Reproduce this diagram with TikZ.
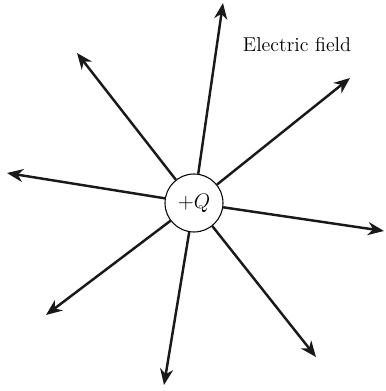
\documentclass[tikz,border=0pt]{standalone}
\usepackage{tikz}
\usetikzlibrary{positioning}
\usetikzlibrary{arrows.meta}
\tikzstyle{charge} = [circle, minimum size=1.16cm, inner sep=0pt, draw=black, line width=0.6pt, fill=white]
\tikzstyle{fieldline} = [line width=1.4pt, draw=black!90, -{Stealth[length=3.2mm, width=2.6mm, inset=1mm]}]

\begin{document}
\begin{tikzpicture}
\useasboundingbox (0,0) rectangle (7.7,7.82);
\node (Q) [charge] at (3.88,3.76) {\fontsize{12}{14}\selectfont $+Q$};
\coordinate (E1) at (4.46,7.76);
\coordinate (E2) at (7.00,6.26);
\coordinate (E3) at (7.68,3.20);
\coordinate (E4) at (6.32,0.68);
\coordinate (E5) at (3.28,0.12);
\coordinate (E6) at (0.92,1.52);
\coordinate (E7) at (0.14,4.36);
\coordinate (E8) at (1.54,6.76);
\node (L) at (5.94,6.92) {\fontsize{11.4}{13}\selectfont Electric field};
\draw [fieldline] (Q) -- (E1);
\draw [fieldline] (Q) -- (E2);
\draw [fieldline] (Q) -- (E3);
\draw [fieldline] (Q) -- (E4);
\draw [fieldline] (Q) -- (E5);
\draw [fieldline] (Q) -- (E6);
\draw [fieldline] (Q) -- (E7);
\draw [fieldline] (Q) -- (E8);
\end{tikzpicture}
\end{document}
